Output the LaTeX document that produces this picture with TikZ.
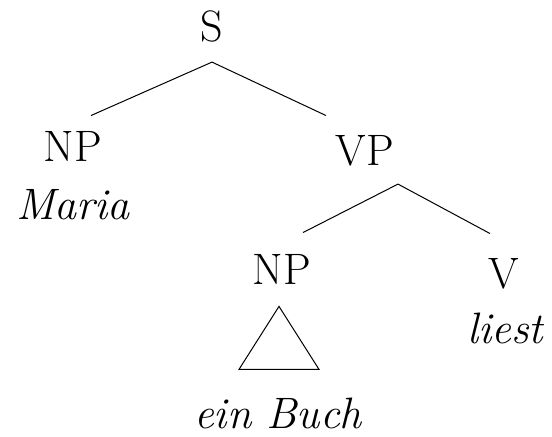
\documentclass[tikz,border=0pt]{standalone}
\usepackage{amsmath}
\usepackage{tikz}

\begin{document}
\begin{tikzpicture}[x=0.5pt,y=-0.5pt]
		\tikzset{cat/.style={font=\fontsize{22}{26}\selectfont,inner sep=0pt,anchor=base},
			word/.style={cat,font=\fontsize{22}{26}\selectfont\itshape},
			branch/.style={line width=0.5pt}};
		\useasboundingbox (0,0) rectangle (552,437);
		\node[cat] (S) at (212,42) {S};
		\node[cat] (NPa) at (73,162) {NP};
		\node[word] (maria) at (73,220) {Maria};
		\node[cat] (VP) at (365,166) {VP};
		\node[cat] (NPb) at (282,285) {NP};
		\node[word] (buch) at (278,429) {ein Buch};
		\node[cat] (V) at (504,289) {V};
		\node[word] (liest) at (505,344) {liest};
		\draw[branch] ([yshift=-9.5pt]S.south) -- ([xshift=9pt,yshift=8pt]NPa.north);
		\draw[branch] ([yshift=-9.5pt]S.south) -- ([xshift=-19.5pt,yshift=10pt]VP.north);
		\draw[branch] ([xshift=16.5pt,yshift=-8.5pt]VP.south) -- ([xshift=10.5pt,yshift=11pt]NPb.north);
		\draw[branch] ([xshift=16.5pt,yshift=-8.5pt]VP.south) -- ([xshift=-7pt,yshift=12.5pt]V.north);
		\draw[branch] ([xshift=-1.5pt,yshift=-10.5pt]NPb.south) -- ++(-40,63) -- ++(80,0) -- cycle;
	\end{tikzpicture}
\end{document}
